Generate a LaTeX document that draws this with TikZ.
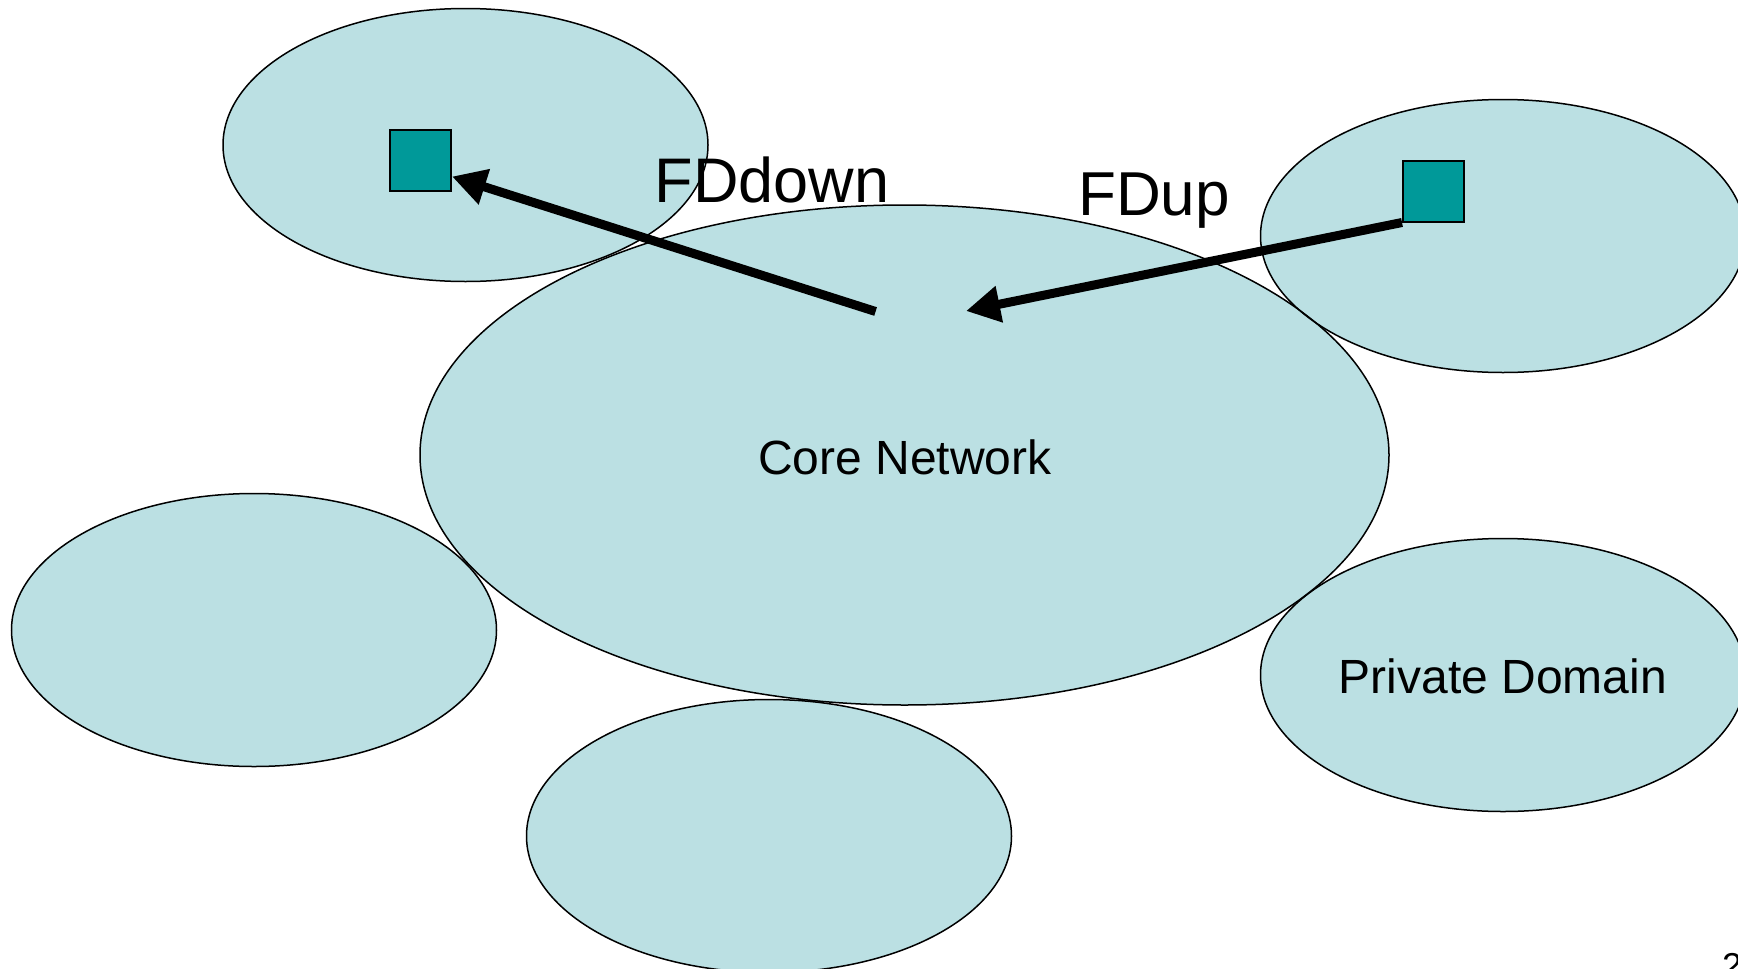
\documentclass[tikz,border=0pt]{standalone}
\usepackage{fontspec}
\setmainfont{Liberation Sans}
\usetikzlibrary{shapes.geometric,arrows.meta}

\definecolor{domainfill}{RGB}{187,224,227}
\definecolor{nodeteal}{RGB}{0,153,153}

\tikzset{
  domainblob/.style={ellipse, fill=domainfill, inner sep=0pt, outer sep=0pt},
  rim/.style={draw=black, line width=1.5pt},
  fdnode/.style={rectangle, draw=black, line width=2pt, fill=nodeteal,
                 minimum width=61pt, minimum height=61pt, inner sep=0pt},
  flow/.style={line width=9pt, -{Triangle[length=34pt,width=35pt]}},
  biglabel/.style={font=\fontsize{62}{62}\selectfont, anchor=base, inner sep=0pt},
  domlabel/.style={font=\fontsize{48}{48}\selectfont, anchor=base, inner sep=0pt},
}

\begin{document}
\begin{tikzpicture}[x=1pt,y=-1pt]
  \useasboundingbox (0,0) rectangle (1738,969);
  \clip (0,0) rectangle (1738,969);

  % domain fills: name / centre / radii
  \foreach \n/\cx/\cy/\rx/\ry in {
      tl/465.5/145/242.5/136.5,
      tr/1503/236/242.5/136.5,
      lf/254/630/242.5/136.5,
      bt/769/836/242.5/136.5,
      pd/1503/675/242.5/136.5,
      core/904.5/455/484.5/250}
  {
    \node[domainblob, minimum width=2*\rx pt, minimum height=2*\ry pt] (\n) at (\cx,\cy) {};
  }
  % all outlines on top of the fills
  \foreach \n/\rx/\ry in {tl/242.5/136.5, tr/242.5/136.5, lf/242.5/136.5,
                          bt/242.5/136.5, pd/242.5/136.5, core/484.5/250}
  {
    \draw[rim] (\n.center) ellipse[x radius=\rx pt, y radius=\ry pt];
  }

  % labels
  \node[domlabel] (corelbl) at (905,474) {Core Network};
  \node[domlabel] (pdlbl) at (1503,693) {Private Domain};

  % functional-distribution nodes
  \node[fdnode] (sq1) at (420.5,160.5) {};
  \node[fdnode] (sq2) at (1433.5,191) {};

  % flows
  \coordinate (downstart) at (875.6,311.5);
  \coordinate (downtip) at ([yshift=-16pt]sq1.east);
  \coordinate (uptip) at (966,311);
  \draw[flow] (downstart) -- (downtip);
  \draw[flow] (sq2.south west) -- (uptip);

  \node[biglabel, font=\fontsize{63}{63}\selectfont] (fdd) at (772,202) {FDdown};
  \node[biglabel, font=\fontsize{62}{62}\selectfont] (fdu) at (1154,215) {FDup};

  % page number
  \node[anchor=north west, inner sep=0pt, font=\fontsize{36}{36}\selectfont] (pg) at (1722,953) {2};
\end{tikzpicture}
\end{document}
